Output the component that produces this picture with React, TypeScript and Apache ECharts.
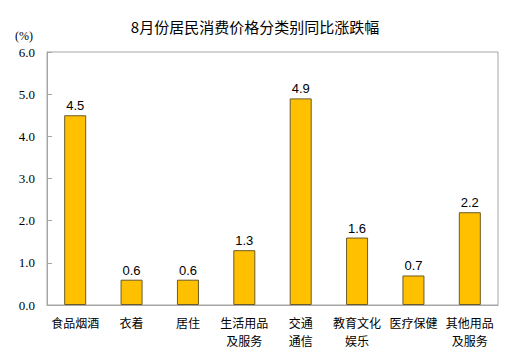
import React, { useEffect, useRef } from "react";
import * as echarts from "echarts";

const titleText = "8月份居民消费价格分类别同比涨跌幅";
const categories = ["食品烟酒", "衣着", "居住", "生活用品\n及服务", "交通\n通信", "教育文化\n娱乐", "医疗保健", "其他用品\n及服务"];
const values = [4.5, 0.6, 0.6, 1.3, 4.9, 1.6, 0.7, 2.2];
const yMin = 0;
const yMax = 6;
const yInterval = 1;

export default function App() {
  const ref = useRef<HTMLDivElement>(null);
  useEffect(() => {
    if (!ref.current) return;
    const chart = echarts.init(ref.current, null, { renderer: "svg" });
    chart.setOption({
      animation: false,
      backgroundColor: "#ffffff",
      title: {
        text: titleText,
        left: 250,
        textAlign: "center",
        top: 14,
        textStyle: { fontFamily: "Noto Sans CJK SC", fontSize: 15, fontWeight: "normal", color: "#000" },
      },
      grid: {
        left: 47,
        right: 22,
        top: 52,
        bottom: 55,
        show: true,
        borderColor: "#a6a6a6",
        borderWidth: 1,
      },
      xAxis: {
        type: "category",
        data: categories,
        axisLine: { show: true, lineStyle: { color: "#a6a6a6" } },
        axisTick: { show: false },
        axisLabel: {
          interval: 0,
          color: "#000",
          fontFamily: "Noto Sans CJK SC",
          fontSize: 12,
          lineHeight: 18,
          margin: 8,
        },
      },
      yAxis: {
        type: "value",
        min: yMin,
        max: yMax,
        interval: yInterval,
        name: "(%)",
        nameLocation: "end",
        nameGap: 10,
        nameTextStyle: {
          fontFamily: "'Liberation Serif', 'DejaVu Serif', serif",
          fontSize: 12,
          color: "#000",
          align: "right",
          padding: [0, 14, 0, 0],
        },
        axisLine: { show: true, lineStyle: { color: "#a6a6a6" } },
        axisTick: { show: true, inside: true, length: 5, lineStyle: { color: "#a6a6a6" } },
        splitLine: { show: false },
        axisLabel: {
          color: "#000",
          fontFamily: "'Liberation Serif', serif",
          fontSize: 13,
          margin: 12,
          formatter: (v: number) => v.toFixed(1),
        },
      },
      series: [
        {
          type: "bar",
          data: values,
          barWidth: 22,
          itemStyle: { color: "#FFC000", borderColor: "#6b5a2a", borderWidth: 1 },
          label: {
            show: true,
            position: "top",
            distance: 3,
            color: "#000",
            fontFamily: "'Liberation Sans', Arial, sans-serif",
            fontSize: 13,
            formatter: (p: any) => Number(p.value).toFixed(1),
          },
        },
      ],
    });
    return () => chart.dispose();
  }, []);
  return <div ref={ref} style={{ position: "fixed", left: 0, top: 0, width: 520, height: 360 }} />;
}
